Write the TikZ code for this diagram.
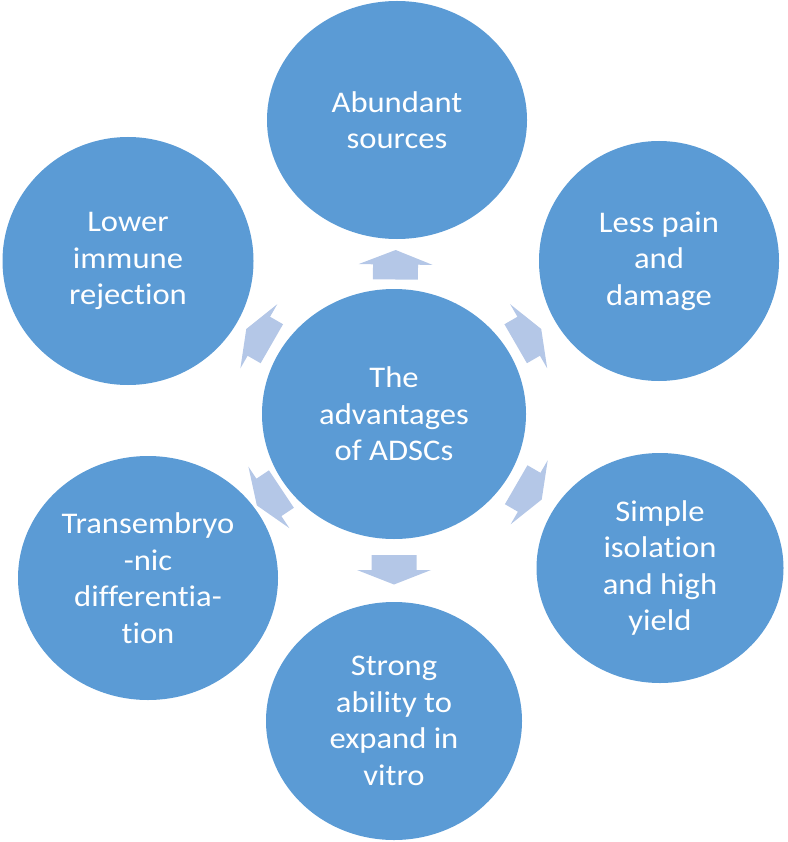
\documentclass[tikz,border=0pt]{standalone}
\usepackage{fontspec}
\setmainfont{Carlito}[FakeStretch=1.087,Ligatures=NoCommon]
\usetikzlibrary{shapes.geometric,calc}
\definecolor{circblue}{HTML}{5B9BD5}
\definecolor{arrblue}{HTML}{B4C7E7}
\tikzset{
  bubble/.style 2 args={ellipse, fill=circblue, text=white, inner sep=0pt,
    minimum width=#1, minimum height=#2, align=center,
    font=\fontsize{30}{36.6}\selectfont},
  blockarr/.pic={\fill[arrblue] (-12.5,-22.5) -- (2.5,-22.5) -- (2.5,-37) -- (17,0)
    -- (2.5,37) -- (2.5,22.5) -- (-12.5,22.5) -- cycle;}
}
\begin{document}
\begin{tikzpicture}[x=1pt,y=-1pt]
\useasboundingbox (0,0) rectangle (787,842);
\node[bubble={264}{250}] (c) at (394,414) {The\\advantages\\of ADSCs};
\node[bubble={260}{238}] (t) at (397,120) {Abundant\\sources};
\node[bubble={240}{240}] (ur) at (659,261) {Less pain\\and\\damage};
\node[bubble={247}{230}] (lr) at (660,568) {Simple\\isolation\\and high\\yield};
\node[bubble={256}{238}] (b) at (394,721) {Strong\\ability to\\expand in\\vitro};
\node[bubble={260}{244}] (ll) at (148,578) {Transembryo\\-nic\\differentia-\\tion};
\node[bubble={251}{248}] (ul) at (128,261) {Lower\\immune\\rejection};
\foreach \n in {t,ur,lr,b,ll,ul}
  \path (c.center) -- (\n.center) pic[midway, sloped, allow upside down] {blockarr};
\end{tikzpicture}
\end{document}
